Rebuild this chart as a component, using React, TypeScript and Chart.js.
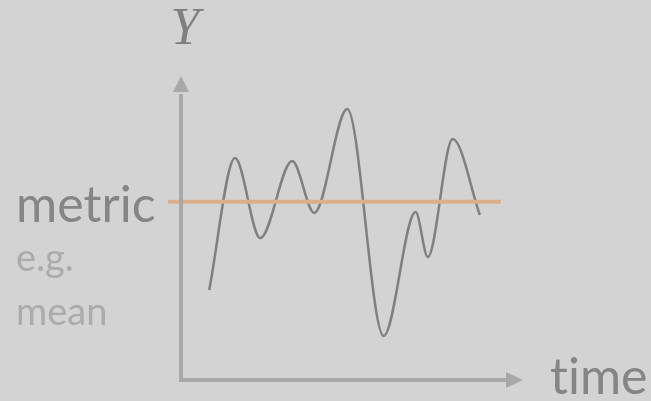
import React, { useEffect, useRef } from "react";
import { Chart, registerables } from "chart.js";

Chart.register(...registerables);

// Signal over time: turning points of the wavy series
const timeValues = [8.3, 15.9, 23.3, 32.7, 39.2, 48.9, 59.6, 69.0, 72.6, 79.9, 87.9];
const signalValues = [30, 74, 47.3, 73, 55.7, 90.3, 14.7, 56, 41, 80.3, 55];
// Summary metric (e.g. mean) drawn as a horizontal reference line
const metricValue = 59.4;
const metricSpan = [-3.8, 94.1];

const axisLabelY = "Y";
const axisLabelX = "time";
const metricLabel = "metric";
const metricNote = ["e.g.", "mean"];

const BG = "#d3d3d3";
const AXIS = "#a8a8a8";
const CURVE = "#808080";
const METRIC = "#dab08b";

// draw text glyph by glyph so no ligatures are formed
function fillPlain(ctx: CanvasRenderingContext2D, text: string, x: number, y: number) {
  let cx = x;
  for (const ch of text) {
    ctx.fillText(ch, cx, y);
    cx += ctx.measureText(ch).width;
  }
}

const decorPlugin = {
  id: "decor",
  beforeDraw(chart: any) {
    const { ctx, width, height } = chart;
    ctx.save();
    ctx.fillStyle = BG;
    ctx.fillRect(0, 0, width, height);
    ctx.restore();
  },
  afterDatasetsDraw(chart: any) {
    const { ctx, chartArea } = chart;
    const { left, right, top, bottom } = chartArea;
    ctx.save();
    // axes with arrow heads
    ctx.strokeStyle = AXIS;
    ctx.fillStyle = AXIS;
    ctx.lineWidth = 4;
    ctx.beginPath();
    ctx.moveTo(left, bottom + 2);
    ctx.lineTo(left, top + 14);
    ctx.moveTo(left - 2, bottom);
    ctx.lineTo(right - 14, bottom);
    ctx.stroke();
    ctx.beginPath();
    ctx.moveTo(left, top - 4);
    ctx.lineTo(left - 8, top + 12);
    ctx.lineTo(left + 8, top + 12);
    ctx.closePath();
    ctx.fill();
    ctx.beginPath();
    ctx.moveTo(right + 2, bottom);
    ctx.lineTo(right - 15, bottom - 8);
    ctx.lineTo(right - 15, bottom + 8);
    ctx.closePath();
    ctx.fill();

    // labels
    const yScale = chart.scales.y;
    const metricY = yScale.getPixelForValue(metricValue);
    ctx.textBaseline = "alphabetic";
    ctx.fillStyle = "#7f7f7f";
    ctx.font = "italic 52px 'Liberation Serif', serif";
    ctx.textAlign = "center";
    ctx.fillText(axisLabelY, left + 4, top - 36);

    ctx.textAlign = "left";
    ctx.fillStyle = "#858585";
    ctx.font = "50px Lato, sans-serif";
    fillPlain(ctx, metricLabel, 16, metricY + 20);

    ctx.fillStyle = "#ababab";
    ctx.font = "38px Lato, sans-serif";
    fillPlain(ctx, metricNote[0], 16, metricY + 69);
    fillPlain(ctx, metricNote[1], 16, metricY + 123);

    ctx.fillStyle = "#858585";
    ctx.font = "50px Lato, sans-serif";
    fillPlain(ctx, axisLabelX, right + 29, bottom + 14);
    ctx.restore();
  },
};

export default function App() {
  const ref = useRef<HTMLCanvasElement | null>(null);

  useEffect(() => {
    if (!ref.current) return;
    const chart = new Chart(ref.current, {
      type: "line",
      data: {
        datasets: [
          {
            label: metricLabel,
            data: metricSpan.map((x) => ({ x, y: metricValue })),
            borderColor: METRIC,
            borderWidth: 4,
            pointRadius: 0,
            clip: false,
          },
          {
            label: "signal",
            data: timeValues.map((x, i) => ({ x, y: signalValues[i] })),
            borderColor: CURVE,
            borderWidth: 2.5,
            pointRadius: 0,
            cubicInterpolationMode: "monotone",
            clip: false,
          },
        ],
      },
      options: {
        animation: false,
        responsive: false,
        events: [],
        layout: { padding: { left: 181, right: 130, top: 80, bottom: 21 } },
        scales: {
          x: { type: "linear", min: 0, max: 100, display: false },
          y: { type: "linear", min: 0, max: 100, display: false },
        },
        plugins: { legend: { display: false }, tooltip: { enabled: false } },
      },
      plugins: [decorPlugin],
    });
    return () => chart.destroy();
  }, []);

  return (
    <div style={{ position: "fixed", left: 0, top: 0, width: 651, height: 401, background: BG }}>
      <canvas ref={ref} width={651} height={401} style={{ display: "block" }} />
    </div>
  );
}
